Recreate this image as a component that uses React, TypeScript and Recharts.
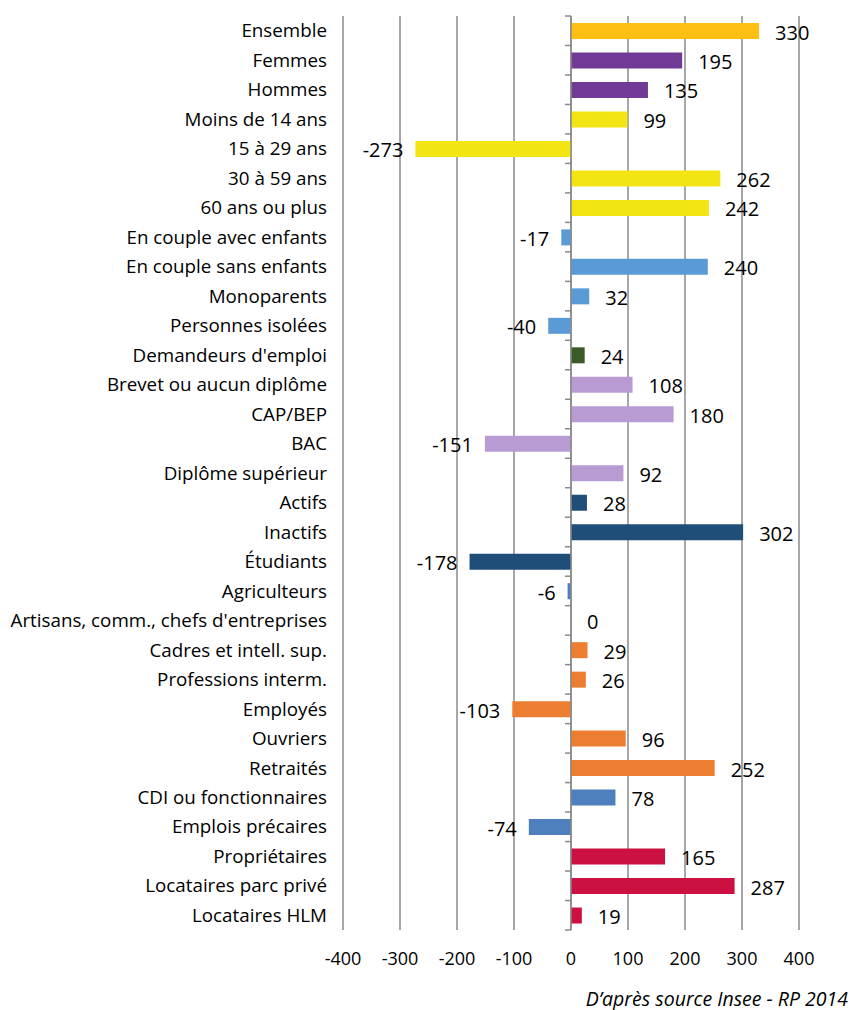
import { BarChart, Bar, XAxis, YAxis, CartesianGrid, ReferenceLine, LabelList, Cell } from "recharts";

const categories = [
  "Ensemble",
  "Femmes",
  "Hommes",
  "Moins de 14 ans",
  "15 à 29 ans",
  "30 à 59 ans",
  "60 ans ou plus",
  "En couple avec enfants",
  "En couple sans enfants",
  "Monoparents",
  "Personnes isolées",
  "Demandeurs d'emploi",
  "Brevet ou aucun diplôme",
  "CAP/BEP",
  "BAC",
  "Diplôme supérieur",
  "Actifs",
  "Inactifs",
  "Étudiants",
  "Agriculteurs",
  "Artisans, comm., chefs d'entreprises",
  "Cadres et intell. sup.",
  "Professions interm.",
  "Employés",
  "Ouvriers",
  "Retraités",
  "CDI ou fonctionnaires",
  "Emplois précaires",
  "Propriétaires",
  "Locataires parc privé",
  "Locataires HLM",
];

const values = [
  330, 195, 135, 99, -273, 262, 242, -17, 240, 32, -40, 24, 108, 180, -151, 92,
  28, 302, -178, -6, 0, 29, 26, -103, 96, 252, 78, -74, 165, 287, 19,
];

const barColors = [
  "#FDBF12",
  "#713A96", "#713A96",
  "#F3E514", "#F3E514", "#F3E514", "#F3E514",
  "#5B9BD5", "#5B9BD5", "#5B9BD5", "#5B9BD5",
  "#3A5A28",
  "#B99BD3", "#B99BD3", "#B99BD3", "#B99BD3",
  "#1F4E78", "#1F4E78", "#1F4E78",
  "#4F80BE",
  "#ED7D31", "#ED7D31", "#ED7D31", "#ED7D31", "#ED7D31", "#ED7D31",
  "#4F80BE", "#4F80BE",
  "#CC1142", "#CC1142", "#CC1142",
];

const xTicks = [-400, -300, -200, -100, 0, 100, 200, 300, 400];

const data = categories.map((name, i) => ({ name, value: values[i] }));

const FONT = "'Open Sans', sans-serif";
const GRID = "#8a8a8a";

// value label: right of the bar for positives, left of it for negatives
function ValueLabel(props: any) {
  const { x, y, width, height, value } = props;
  const left = Math.min(x, x + width);
  const right = Math.max(x, x + width);
  const cy = y + height / 2 + 1;
  const neg = value < 0;
  return (
    <text
      x={neg ? left - 12 : right + 16}
      y={cy}
      textAnchor={neg ? "end" : "start"}
      dominantBaseline="central"
      fontSize={20}
      fontFamily={FONT}
      fill="#000"
    >
      {value}
    </text>
  );
}

// category axis drawn at zero, with small ticks between categories
function ZeroAxis(props: any) {
  const { x1, y1, x2, y2 } = props;
  const top = Math.min(y1, y2);
  const bottom = Math.max(y1, y2);
  const step = (bottom - top) / categories.length;
  const marks = [];
  for (let i = 0; i <= categories.length; i++) {
    const ty = top + step * i;
    marks.push(<line key={i} x1={x1 - 6} x2={x1} y1={ty} y2={ty} stroke={GRID} strokeWidth={1.5} />);
  }
  return (
    <g>
      <line x1={x1} x2={x2} y1={top} y2={bottom} stroke={GRID} strokeWidth={1.5} />
      {marks}
    </g>
  );
}

export default function App() {
  return (
    <div style={{ position: "absolute", left: 0, top: 0, width: 854, height: 1010, background: "#fff" }}>
      <BarChart
        width={854}
        height={1010}
        data={data}
        layout="vertical"
        margin={{ top: 16, right: 55, bottom: 40, left: 0 }}
        barCategoryGap={0}
      >
        <CartesianGrid horizontal={false} stroke={GRID} strokeWidth={1.5} />
        <XAxis
          type="number"
          domain={[-400, 400]}
          ticks={xTicks}
          interval={0}
          axisLine={false}
          tickLine={false}
          tickSize={0}
          tickMargin={22}
          height={40}
          tick={{ fontSize: 18, fill: "#000", fontFamily: FONT }}
        />
        <XAxis
          xAxisId="top"
          orientation="top"
          type="number"
          domain={[-400, 400]}
          ticks={xTicks}
          interval={0}
          height={0}
          axisLine={{ stroke: GRID, strokeWidth: 1.5 }}
          tickLine={{ stroke: GRID, strokeWidth: 1.5 }}
          tickSize={6}
          tickFormatter={() => ""}
        />
        <YAxis
          type="category"
          dataKey="name"
          width={343}
          interval={0}
          axisLine={false}
          tickLine={false}
          tickSize={0}
          tickMargin={16}
          tick={{ fontSize: 18.8, fill: "#000", fontFamily: FONT }}
        />
        <ReferenceLine x={0} shape={(p: any) => <ZeroAxis {...p} />} />
        <Bar
          dataKey="value"
          barSize={16}
          minPointSize={(v: number) => (v === 0 ? 0.01 : 0)}
          isAnimationActive={false}
        >
          {data.map((d, i) => (
            <Cell key={d.name} fill={barColors[i]} />
          ))}
          <LabelList dataKey="value" content={(p: any) => <ValueLabel {...p} />} />
        </Bar>
      </BarChart>
      <div
        style={{
          position: "absolute",
          right: 6,
          top: 985,
          fontFamily: FONT,
          fontStyle: "italic",
          fontSize: 19.5,
          color: "#000",
        }}
      >
        D’après source Insee - RP 2014
      </div>
    </div>
  );
}
